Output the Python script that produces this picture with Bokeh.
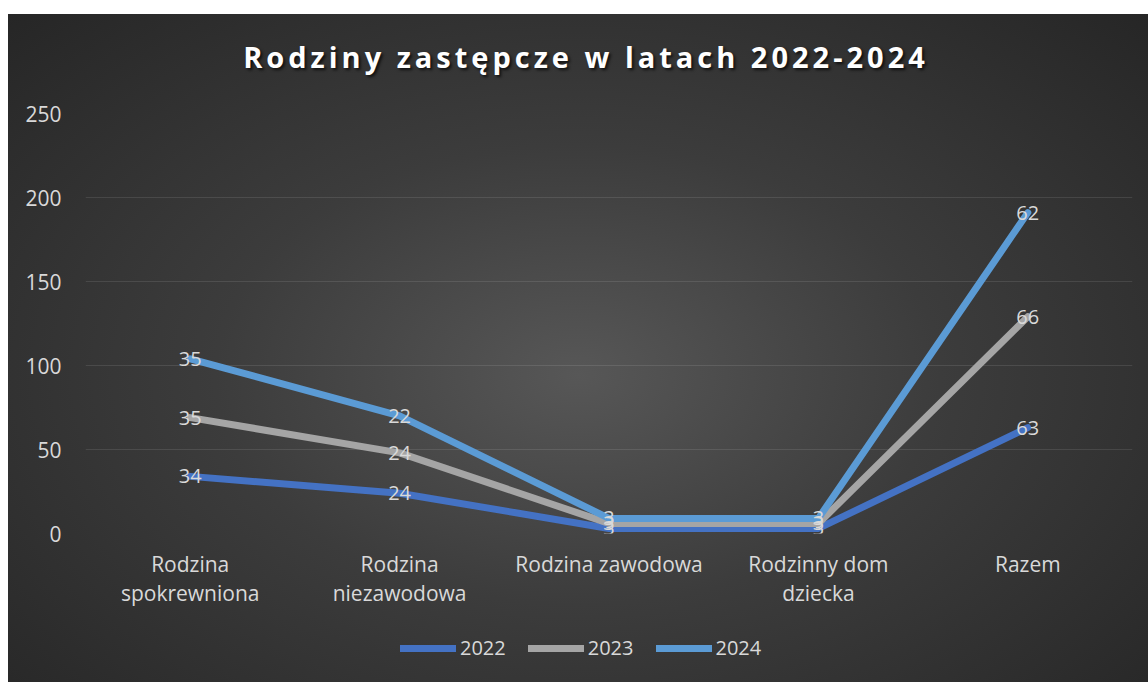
from bokeh.plotting import figure
from bokeh.models import Range1d, FixedTicker, Legend, LegendItem, ColumnDataSource, Div
from bokeh.layouts import column
from bokeh.embed import file_html
from bokeh.resources import INLINE
from bokeh.core.properties import value
import numpy as np

title = "Rodziny zastępcze w latach 2022-2024"
categories = ["Rodzina\nspokrewniona", "Rodzina\nniezawodowa", "Rodzina zawodowa", "Rodzinny dom\ndziecka", "Razem"]
years = ["2022", "2023", "2024"]
v2022 = [34, 24, 3, 3, 63]
v2023 = [35, 24, 3, 3, 66]
v2024 = [35, 22, 3, 3, 62]
colors = ["#4472C4", "#A5A5A5", "#5B9BD5"]
y_ticks = [0, 50, 100, 150, 200, 250]

FONT = "Open Sans"
TXT = "#d9d9d9"
W = 1148

bg = ("linear-gradient(#ffffff, #ffffff) 0 0 / 100% 14px no-repeat, "
      "linear-gradient(#ffffff, #ffffff) 0 0 / 8px 100% no-repeat, "
      "radial-gradient(ellipse at 50% 54%, #575757 0%, #3c3c3c 45%, #262626 100%) 8px 14px / calc(100% - 8px) calc(100% - 14px) no-repeat")

head = Div(text=f'<div style="box-sizing:border-box; padding-top:40px; padding-left:24px; text-align:center; width:{W}px">{title}</div>',
           width=W, height=90, margin=0,
           styles={"font-family": FONT, "font-weight": "bold", "font-size": "29px", "color": "#ffffff",
                   "letter-spacing": "4px", "text-shadow": "2px 2px 3px rgba(0,0,0,0.7)", "line-height": "1.2"})

p = figure(width=W, height=530, output_backend="svg", toolbar_location=None,
           x_range=Range1d(-0.5, 4.5), y_range=Range1d(0, 250),
           min_border_left=85, min_border_right=16, min_border_top=23, min_border_bottom=87)
p.border_fill_alpha = 0
p.background_fill_alpha = 0
p.outline_line_color = None

p.xgrid.grid_line_color = None
p.ygrid.grid_line_color = "white"
p.ygrid.grid_line_alpha = 0.1
p.ygrid.grid_line_width = 1

p.yaxis.ticker = FixedTicker(ticks=y_ticks)
p.xaxis.ticker = FixedTicker(ticks=list(range(len(categories))))
p.xaxis.major_label_overrides = {i: c for i, c in enumerate(categories)}
for ax in (p.xaxis, p.yaxis):
    ax.axis_line_color = None
    ax.major_tick_line_color = None
    ax.minor_tick_line_color = None
    ax.major_label_text_color = TXT
    ax.major_label_text_font = FONT
    ax.major_label_text_font_size = "21px"
p.yaxis.major_label_standoff = 18
p.xaxis.major_label_standoff = 10
p.xaxis.major_label_text_line_height = 1.05

x = np.arange(len(categories))
series = [v2022, v2023, v2024]
cum = np.cumsum(np.array(series), axis=0)

for i, (vals, col) in enumerate(zip(series, colors)):
    p.line(x, cum[i], line_color=col, line_width=7, line_join="round", line_cap="round")

for i, vals in enumerate(series):
    src = ColumnDataSource(dict(x=x, y=cum[i], t=[str(v) for v in vals]))
    p.text(x="x", y="y", text="t", source=src, text_align="center", text_baseline="middle",
           text_color=TXT, text_font=value(FONT), text_font_size="20px")

# legend strip
lg = figure(width=W, height=62, output_backend="svg", toolbar_location=None,
            x_range=Range1d(0, 1), y_range=Range1d(0, 1), min_border=0)
lg.axis.visible = False
lg.grid.visible = False
lg.border_fill_alpha = 0
lg.background_fill_alpha = 0
lg.outline_line_color = None
items = []
for yr, col in zip(years, colors):
    r = lg.line([0.5], [np.nan], line_color=col, line_width=7, line_cap="round")
    items.append(LegendItem(label=yr, renderers=[r]))
legend = Legend(items=items, orientation="horizontal", location=(315, 21),
                glyph_width=56, glyph_height=20, label_standoff=4, spacing=22,
                label_text_color=TXT, label_text_font=FONT, label_text_font_size="20px",
                background_fill_alpha=0, border_line_color=None, margin=0, padding=4)
lg.add_layout(legend)

layout = column(head, p, lg, spacing=0, styles={"background": bg})

open("out.html", "w").write(file_html(layout, INLINE))
